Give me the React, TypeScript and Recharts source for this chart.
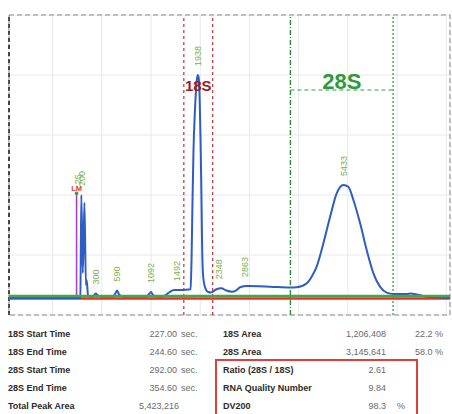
import React from 'react';
import {
  ComposedChart,
  Line,
  XAxis,
  YAxis,
  CartesianGrid,
  ReferenceLine,
  ReferenceArea,
  ReferenceDot,
  Scatter,
} from 'recharts';

// Electropherogram trace: migration time (s) and fluorescence (FU)
const timeSec = [
  120.4, 151.5, 163.4, 163.9, 164.5, 165.4, 166.4, 167.3, 167.8, 168.6,
  169.8, 171.6, 173.2, 174.7, 176.6, 183.8, 185.4, 186.3, 187.5, 189.4,
  204.0, 205.8, 207.0, 208.2, 210.7, 214.9, 218.0, 221.0, 225.9, 230.2,
  231.1, 231.7, 232.3, 232.9, 233.8, 234.8, 235.4, 236.0, 236.6, 237.2,
  237.7, 238.1, 238.7, 239.9, 241.8, 243.6, 246.6, 249.9, 252.9, 256.4,
  258.8, 261.3, 265.4, 279.6, 291.8, 295.9, 302.0, 305.2, 308.0, 312.1,
  316.2, 320.2, 324.3, 327.3, 330.4, 334.5, 338.5, 342.6, 346.6, 350.7,
  354.8, 362.9, 365.5, 368.5, 375.1, 389.3,
];
const fluorescence = [
  2.83, 2.83, 2.83, 2.9, 20.0, 7.0, 18.7, 5.0, 5.8, 3.2,
  3.08, 3.08, 3.58, 3.25, 3.08, 3.08, 3.67, 4.08, 3.42, 3.08,
  3.08, 3.5, 3.83, 3.33, 3.08, 3.17, 3.75, 4.17, 4.17, 4.25,
  4.33, 9.17, 19.17, 27.5, 34.17, 38.83, 40.0, 39.67, 36.67, 29.17,
  20.83, 12.5, 6.67, 4.67, 3.83, 3.75, 4.25, 4.45, 4.08, 3.88,
  4.08, 4.62, 4.83, 4.72, 4.58, 4.62, 5.28, 6.5, 8.05, 11.95,
  16.38, 20.28, 21.67, 21.38, 19.17, 15.28, 10.83, 6.95, 4.72, 3.72,
  3.5, 3.5, 3.6, 3.45, 3.05, 2.88,
];

// Baselines across the whole run
const baselineTime = [120.4, 389.3];
const greenBaselineFU = 3.17;
const redBaselineFU = 2.75;

// Lower marker
const markerTime = 161.6;
const markerFU = [2.83, 20.3];

// Peak size labels (nt)
const peakSizes = ['25', '200', '300', '590', '1092', '1492', '1938', '2348', '2863', '5433'];
const peakTime = [162.5, 165.0, 173.2, 186.3, 207.0, 223.0, 235.4, 248.5, 264.3, 324.3];
const peakFU = [20.3, 20.0, 3.58, 4.08, 3.83, 4.17, 40.0, 4.45, 4.83, 21.67];

// Integration windows (s)
const window18S = [227.0, 244.6];
const window28S = [292.0, 354.6];

// Results
const totalPeakArea = 5423216;
const area18S = 1206408;
const area28S = 3145641;
const pct18S = 22.2;
const pct28S = 58.0;
const ratio28S18S = 2.61;
const rin = 9.84;
const dv200 = 98.3;

const xDomain = [120.4, 389.3];
const yDomain = [0, 50];
const xGridTicks = [147, 177, 207, 237, 267, 297, 327, 357, 387];
const yGridTicks = [0, 10, 20, 30, 40, 50];

const trace = timeSec.map((t, i) => ({ t, fu: fluorescence[i] }));
const greenBaseline = baselineTime.map((t) => ({ t, fu: greenBaselineFU }));
const redBaseline = baselineTime.map((t) => ({ t, fu: redBaselineFU }));
const peaks = peakSizes.map((size, i) => ({ size, t: peakTime[i], fu: peakFU[i] }));

const FONT = '"Liberation Sans", Arial, Helvetica, sans-serif';

const PeakLabel = (props: any) => {
  const { cx, cy, payload } = props;
  if (cx == null || cy == null) return null;
  const y = cy - 9;
  return (
    <text
      x={cx}
      y={y}
      transform={`rotate(-90 ${cx} ${y})`}
      fill="#78b04a"
      fontSize={9}
      fontFamily={FONT}
      textAnchor="start"
      dy="0.35em"
    >
      {payload.size}
    </text>
  );
};

const MarkerLabel = (props: any) => {
  const { viewBox } = props;
  if (!viewBox) return null;
  const cx = viewBox.x + viewBox.width / 2;
  const cy = viewBox.y + viewBox.height / 2;
  return (
    <text x={cx} y={cy - 2} fill="#e03a3a" fontSize={7.5} fontWeight="bold" fontFamily={FONT} textAnchor="middle">
      LM
    </text>
  );
};

const leftRows = [
  ['18S Start Time', window18S[0].toFixed(2), 'sec.'],
  ['18S End Time', window18S[1].toFixed(2), 'sec.'],
  ['28S Start Time', window28S[0].toFixed(2), 'sec.'],
  ['28S End Time', window28S[1].toFixed(2), 'sec.'],
];
const rowTops = [329, 347, 365, 383, 401];

const labelStyle: React.CSSProperties = {
  position: 'absolute',
  fontFamily: FONT,
  fontSize: 9,
  fontWeight: 'bold',
  color: '#2a2a2a',
  whiteSpace: 'nowrap',
  lineHeight: '11px',
};
const valueStyle: React.CSSProperties = {
  position: 'absolute',
  fontFamily: FONT,
  fontSize: 9,
  color: '#6a6a6a',
  whiteSpace: 'nowrap',
  lineHeight: '11px',
};

function ResultsTable() {
  const fmt = (n: number) => n.toLocaleString('en-US');
  return (
    <>
      {leftRows.map((r, i) => (
        <React.Fragment key={r[0]}>
          <div style={{ ...labelStyle, left: 8, top: rowTops[i] }}>{r[0]}</div>
          <div style={{ ...valueStyle, right: 452 - 177, top: rowTops[i] }}>{r[1]}</div>
          <div style={{ ...valueStyle, left: 181, top: rowTops[i] }}>{r[2]}</div>
        </React.Fragment>
      ))}
      <div style={{ ...labelStyle, left: 8, top: rowTops[4] }}>Total Peak Area</div>
      <div style={{ ...valueStyle, left: 139, top: rowTops[4] }}>{fmt(totalPeakArea)}</div>

      <div style={{ ...labelStyle, left: 223, top: rowTops[0] }}>18S Area</div>
      <div style={{ ...valueStyle, right: 452 - 386, top: rowTops[0] }}>{fmt(area18S)}</div>
      <div style={{ ...valueStyle, left: 415, top: rowTops[0] }}>{pct18S.toFixed(1)} %</div>

      <div style={{ ...labelStyle, left: 223, top: rowTops[1] }}>28S Area</div>
      <div style={{ ...valueStyle, right: 452 - 386, top: rowTops[1] }}>{fmt(area28S)}</div>
      <div style={{ ...valueStyle, left: 415, top: rowTops[1] }}>{pct28S.toFixed(1)} %</div>

      <div
        style={{
          position: 'absolute',
          left: 215,
          top: 359,
          width: 203,
          height: 64,
          border: '2px solid #e0403c',
          boxSizing: 'border-box',
        }}
      />
      <div style={{ ...labelStyle, left: 223, top: rowTops[2] }}>Ratio (28S / 18S)</div>
      <div style={{ ...valueStyle, right: 452 - 386, top: rowTops[2] }}>{ratio28S18S.toFixed(2)}</div>
      <div style={{ ...labelStyle, left: 223, top: rowTops[3] }}>RNA Quality Number</div>
      <div style={{ ...valueStyle, right: 452 - 386, top: rowTops[3] }}>{rin.toFixed(2)}</div>
      <div style={{ ...labelStyle, left: 223, top: rowTops[4] }}>DV200</div>
      <div style={{ ...valueStyle, right: 452 - 386, top: rowTops[4] }}>{dv200.toFixed(1)}</div>
      <div style={{ ...valueStyle, left: 397, top: rowTops[4] }}>%</div>
    </>
  );
}

export default function App() {
  return (
    <div
      style={{
        position: 'absolute',
        left: 0,
        top: 0,
        width: 452,
        height: 414,
        overflow: 'hidden',
        background: '#ffffff',
      }}
    >
      <ComposedChart
        width={452}
        height={322}
        data={trace}
        margin={{ top: 15, right: 2, bottom: 7, left: 9 }}
      >
        <XAxis type="number" dataKey="t" domain={xDomain} ticks={xGridTicks} allowDataOverflow hide />
        <YAxis type="number" domain={yDomain} ticks={yGridTicks} allowDataOverflow hide />
        <CartesianGrid stroke="#e6e8ec" strokeWidth={1} />
        <ReferenceArea
          x1={xDomain[0]}
          x2={xDomain[1]}
          y1={yDomain[0]}
          y2={yDomain[1]}
          fill="none"
          stroke="#8c8c8c"
          strokeDasharray="5 3"
          strokeWidth={1}
          ifOverflow="visible"
        />
        <ReferenceLine x={xDomain[0]} stroke="#1e1e1e" strokeWidth={1.5} strokeDasharray="4 3" />

        <ReferenceLine x={window18S[0]} stroke="#b8333b" strokeWidth={1.2} strokeDasharray="3 3" />
        <ReferenceLine x={window18S[1]} stroke="#b8333b" strokeWidth={1.2} strokeDasharray="3 3" />
        <ReferenceLine x={window28S[0]} stroke="#2e8b3a" strokeWidth={1.4} strokeDasharray="5 2 1 2" />
        <ReferenceLine x={window28S[1]} stroke="#78c078" strokeWidth={2} strokeDasharray="2 2" />

        <Line data={redBaseline} dataKey="fu" stroke="#e8302c" strokeWidth={2.5} dot={false} isAnimationActive={false} />
        <ReferenceLine
          segment={[
            { x: markerTime, y: markerFU[0] },
            { x: markerTime, y: markerFU[1] },
          ]}
          stroke="#a844c4"
          strokeWidth={1.6}
        />
        <Line data={trace} dataKey="fu" type="monotone" stroke="#2f5bc4" strokeWidth={2} dot={false} isAnimationActive={false} />
        <Line data={greenBaseline} dataKey="fu" stroke="#45a845" strokeWidth={2.5} dot={false} isAnimationActive={false} />
        <ReferenceDot x={markerTime} y={markerFU[1]} r={1.8} fill="#3aa03a" stroke="none" label={<MarkerLabel />} />

        <Scatter data={peaks} dataKey="fu" shape={PeakLabel} isAnimationActive={false} />

        <ReferenceLine
          segment={[
            { x: window18S[0], y: 37.2 },
            { x: window18S[1], y: 37.2 },
          ]}
          stroke="none"
          label={{ value: '18S', position: 'top', offset: 1, fill: '#9c1c24', fontSize: 15, fontWeight: 'bold', fontFamily: FONT }}
        />
        <ReferenceLine
          segment={[
            { x: window28S[0], y: 37.5 },
            { x: window28S[1], y: 37.5 },
          ]}
          stroke="#3a9a45"
          strokeDasharray="4 3"
          label={{ value: '28S', position: 'top', offset: 1, fill: '#2e9a3c', fontSize: 22, fontWeight: 'bold', fontFamily: FONT }}
        />
      </ComposedChart>
      <ResultsTable />
    </div>
  );
}
